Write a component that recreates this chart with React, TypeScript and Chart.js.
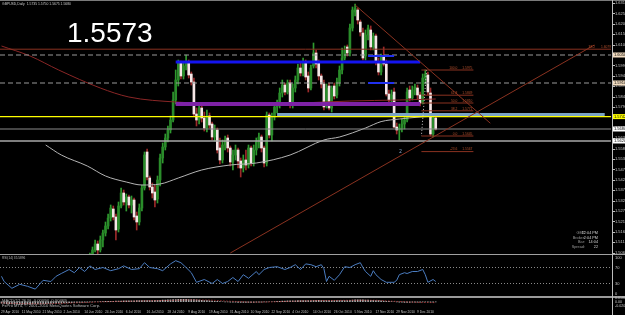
import React, { useEffect, useRef } from 'react';
import { Chart, registerables } from 'chart.js';

Chart.register(...registerables);

const FONT = '"Liberation Sans", Arial, sans-serif';

// ---------------- text content ----------------
const symbolTitle = 'GBPUSD,Daily  1.5735 1.5750 1.5675 1.5680';
const bigPrice = '1.5573';
const rsiTitle = 'RSI(14) 35.5896';
const macdTitle = 'MACD(12,26,9) -0.00094 -0.00469';
const copyright = 'FxPro MT4, \u00A9 2001-2010 MetaQuotes Software Corp.';
const infoLabels = ['GMT', 'Broker:', 'Bar:', 'Spread:'];
const infoValues = ['12:04 PM', '2:04 PM', '14:04', '22'];

// ---------------- x axis (bar index) ----------------
const dateLabels = ['29 Apr 2010', '11 May 2010', '21 May 2010', '2 Jun 2010', '14 Jun 2010', '24 Jun 2010', '6 Jul 2010', '16 Jul 2010', '28 Jul 2010', '9 Aug 2010', '19 Aug 2010', '31 Aug 2010', '10 Sep 2010', '22 Sep 2010', '4 Oct 2010', '14 Oct 2010', '26 Oct 2010', '5 Nov 2010', '17 Nov 2010', '29 Nov 2010', '9 Dec 2010'];
const dateLabelBars = [0, 8, 16, 24, 32, 40, 48, 56, 64, 72, 80, 88, 96, 104, 112, 120, 128, 136, 144, 152, 160];
const X_MIN = -0.577;
const X_MAX = 234.42;

// ---------------- price data (daily candles, first visible bar = 34) ----------------
const firstBar = 34;
const opens = [
  1.5015, 1.5045, 1.5075, 1.5105, 1.5075, 1.5125, 1.5160, 1.5195, 1.5235, 1.5280,
  1.5240, 1.5180, 1.5295, 1.5360, 1.5315, 1.5340, 1.5300, 1.5325, 1.5245, 1.5215,
  1.5285, 1.5385, 1.5565, 1.5435, 1.5390, 1.5365, 1.5330, 1.5425, 1.5535, 1.5590,
  1.5635, 1.5675, 1.5725, 1.5825, 1.5925, 1.6010, 1.5945, 1.5995, 1.6015, 1.5955,
  1.5915, 1.5755, 1.5725, 1.5785, 1.5735, 1.5685, 1.5745, 1.5705, 1.5640, 1.5675,
  1.5585, 1.5525, 1.5600, 1.5635, 1.5585, 1.5515, 1.5550, 1.5575, 1.5520, 1.5485,
  1.5525, 1.5500, 1.5585, 1.5510, 1.5575, 1.5615, 1.5640, 1.5585, 1.5510, 1.5750,
  1.5650, 1.5740, 1.5790, 1.5805, 1.5860, 1.5900, 1.5865, 1.5910, 1.5800, 1.5885,
  1.5925, 1.5985, 1.5960, 1.6010, 1.5945, 1.5885, 1.5995, 1.6060, 1.6010, 1.5945,
  1.5905, 1.5805, 1.5895, 1.5785, 1.5895, 1.5850, 1.5915, 1.5975, 1.6035, 1.6090,
  1.6060, 1.6185, 1.6265, 1.6275, 1.6215, 1.6160, 1.6045, 1.6150, 1.6175, 1.6090,
  1.6145, 1.6015, 1.5965, 1.6040, 1.6005, 1.5855, 1.5825, 1.5865, 1.5690, 1.5675,
  1.5685, 1.5705, 1.5725, 1.5875, 1.5835, 1.5875, 1.5885, 1.5850, 1.5815, 1.5935,
  1.5950, 1.5860, 1.5655, 1.5735,
];
const highs = [
  1.5060, 1.5090, 1.5125, 1.5120, 1.5145, 1.5175, 1.5215, 1.5255, 1.5300, 1.5295,
  1.5255, 1.5315, 1.5385, 1.5375, 1.5355, 1.5350, 1.5345, 1.5335, 1.5265, 1.5305,
  1.5400, 1.5565, 1.5580, 1.5445, 1.5410, 1.5400, 1.5445, 1.5555, 1.5610, 1.5655,
  1.5695, 1.5745, 1.5865, 1.5975, 1.6025, 1.6020, 1.6015, 1.6050, 1.6025, 1.5965,
  1.5935, 1.5785, 1.5805, 1.5795, 1.5765, 1.5775, 1.5760, 1.5715, 1.5700, 1.5685,
  1.5635, 1.5625, 1.5645, 1.5650, 1.5595, 1.5575, 1.5600, 1.5585, 1.5535, 1.5550,
  1.5575, 1.5600, 1.5595, 1.5600, 1.5635, 1.5660, 1.5650, 1.5595, 1.5765, 1.5760,
  1.5760, 1.5810, 1.5825, 1.5885, 1.5925, 1.5910, 1.5925, 1.5925, 1.5905, 1.5945,
  1.6005, 1.6015, 1.6035, 1.6025, 1.5965, 1.6000, 1.6110, 1.6075, 1.6025, 1.5955,
  1.5925, 1.5905, 1.5910, 1.5895, 1.5910, 1.5935, 1.5995, 1.6085, 1.6095, 1.6100,
  1.6205, 1.6290, 1.6305, 1.6285, 1.6225, 1.6185, 1.6175, 1.6200, 1.6195, 1.6160,
  1.6155, 1.6035, 1.6055, 1.6090, 1.6025, 1.5875, 1.5875, 1.5885, 1.5710, 1.5705,
  1.5730, 1.5745, 1.5885, 1.5895, 1.5895, 1.5905, 1.5900, 1.5865, 1.5955, 1.5975,
  1.5965, 1.5885, 1.5755, 1.5750,
];
const lows = [
  1.5005, 1.5035, 1.5065, 1.5050, 1.5065, 1.5090, 1.5145, 1.5180, 1.5220, 1.5225,
  1.5125, 1.5165, 1.5285, 1.5300, 1.5270, 1.5285, 1.5260, 1.5225, 1.5175, 1.5200,
  1.5270, 1.5375, 1.5425, 1.5375, 1.5335, 1.5290, 1.5310, 1.5395, 1.5510, 1.5575,
  1.5615, 1.5660, 1.5715, 1.5805, 1.5895, 1.5930, 1.5930, 1.5975, 1.5935, 1.5900,
  1.5745, 1.5695, 1.5705, 1.5715, 1.5670, 1.5665, 1.5685, 1.5625, 1.5620, 1.5560,
  1.5505, 1.5510, 1.5575, 1.5565, 1.5495, 1.5475, 1.5525, 1.5485, 1.5440, 1.5465,
  1.5475, 1.5485, 1.5495, 1.5495, 1.5550, 1.5585, 1.5565, 1.5490, 1.5495, 1.5635,
  1.5620, 1.5725, 1.5760, 1.5785, 1.5840, 1.5850, 1.5855, 1.5785, 1.5785, 1.5865,
  1.5905, 1.5945, 1.5945, 1.5925, 1.5865, 1.5875, 1.5985, 1.5985, 1.5925, 1.5885,
  1.5775, 1.5785, 1.5775, 1.5765, 1.5830, 1.5835, 1.5895, 1.5955, 1.6025, 1.6045,
  1.6045, 1.6170, 1.6245, 1.6205, 1.6145, 1.6025, 1.6025, 1.6125, 1.6075, 1.6075,
  1.6000, 1.5950, 1.5950, 1.5995, 1.5845, 1.5810, 1.5805, 1.5685, 1.5655, 1.5625,
  1.5665, 1.5680, 1.5715, 1.5820, 1.5825, 1.5850, 1.5830, 1.5795, 1.5805, 1.5905,
  1.5850, 1.5645, 1.5640, 1.5675,
];
const closes = [
  1.5045, 1.5075, 1.5105, 1.5075, 1.5125, 1.5160, 1.5195, 1.5235, 1.5285, 1.5240,
  1.5175, 1.5295, 1.5360, 1.5315, 1.5340, 1.5300, 1.5325, 1.5240, 1.5215, 1.5285,
  1.5385, 1.5550, 1.5440, 1.5390, 1.5360, 1.5325, 1.5425, 1.5535, 1.5590, 1.5635,
  1.5675, 1.5725, 1.5825, 1.5925, 1.6010, 1.5945, 1.5995, 1.6015, 1.5950, 1.5915,
  1.5755, 1.5725, 1.5785, 1.5735, 1.5685, 1.5745, 1.5700, 1.5640, 1.5675, 1.5575,
  1.5525, 1.5600, 1.5625, 1.5585, 1.5515, 1.5550, 1.5575, 1.5520, 1.5485, 1.5525,
  1.5500, 1.5585, 1.5510, 1.5575, 1.5615, 1.5640, 1.5585, 1.5510, 1.5750, 1.5650,
  1.5740, 1.5790, 1.5805, 1.5860, 1.5900, 1.5865, 1.5910, 1.5800, 1.5885, 1.5925,
  1.5985, 1.5960, 1.6015, 1.5940, 1.5885, 1.5985, 1.6060, 1.6005, 1.5945, 1.5905,
  1.5790, 1.5885, 1.5785, 1.5885, 1.5845, 1.5915, 1.5975, 1.6035, 1.6075, 1.6060,
  1.6185, 1.6275, 1.6285, 1.6225, 1.6165, 1.6035, 1.6150, 1.6185, 1.6090, 1.6145,
  1.6015, 1.5965, 1.6040, 1.6005, 1.5855, 1.5825, 1.5850, 1.5690, 1.5675, 1.5685,
  1.5705, 1.5725, 1.5865, 1.5835, 1.5875, 1.5890, 1.5850, 1.5810, 1.5935, 1.5955,
  1.5865, 1.5655, 1.5735, 1.5680,
];
const P_MIN = 1.5055;
const P_MAX = 1.6320;
const priceTicks = [1.6310, 1.6258, 1.6206, 1.6154, 1.6102, 1.6050, 1.5998, 1.5946, 1.5894, 1.5842, 1.5790, 1.5738, 1.5686, 1.5634, 1.5582, 1.5530, 1.5478, 1.5426, 1.5374, 1.5322, 1.5270, 1.5218, 1.5166, 1.5114, 1.5062];

// moving averages [bar, price]
const maSlow = [[0, 1.6095], [11, 1.6045], [22, 1.5975], [38, 1.5885], [49, 1.5840], [67, 1.5815], [96, 1.5805], [115, 1.5810], [134, 1.5820], [153, 1.5825], [167, 1.5830]];
const maFast = [[17, 1.5600], [23, 1.5550], [33, 1.5495], [40, 1.5445], [48, 1.5415], [54, 1.5400], [61, 1.5405], [68, 1.5435], [77, 1.5475], [88, 1.5500], [98, 1.5510], [111, 1.5550], [124, 1.5625], [130, 1.5640], [140, 1.5685], [146, 1.5717], [153, 1.5730], [161, 1.5740], [167, 1.5745]];

// chart objects
const brownLevel = 1.6079;
const dashedLevels = [1.6050, 1.5910];
const blueLevel = 1.6015;
const blueBars = [67, 161];
const shortBlueLevels = [1.6045, 1.5910];
const shortBlueBars = [141, 151];
const purpleLevel = 1.5805;
const purpleBars = [67, 161];
const steelLevel = 1.5752;
const steelBars = [106, 232];
const yellowLevel = 1.5742;
const grayLevel = 1.5620;
const downTrend = [[136, 1.6300], [188, 1.5709]];
const upTrend = [[88, 1.5060], [228, 1.6100]];
const fibBars = [161.5, 181.5];
const fibLevels = [1.5975, 1.5849, 1.5810, 1.5771, 1.5645, 1.5567];
const fibNames = ['100.0', '61.8', '50.0', '38.2', '0.0', '-23.6'];
const fibConnector = [[163.5, 1.5975], [161.5, 1.5645]];
const bigFibName = '38.2';
const waveMark = { bar: 153.5, price: 1.5568, text: '2' };

// RSI [bar, value]
const rsiPoints = [[0, 48], [1, 35], [4, 18], [7, 28], [10, 23], [13, 16], [16, 38], [19, 35], [21, 48], [23, 55], [26, 65], [28, 57], [30, 70], [32, 60], [34, 74], [36, 65], [39, 70], [42, 62], [45, 67], [47, 74], [50, 65], [53, 67], [55, 82], [57, 70], [60, 67], [62, 62], [65, 79], [67, 87], [69, 82], [71, 70], [73, 57], [75, 33], [78, 40], [81, 30], [83, 40], [85, 30], [87, 35], [89, 45], [91, 35], [93, 52], [95, 43], [98, 60], [99, 52], [101, 65], [103, 70], [106, 72], [109, 65], [111, 70], [113, 77], [115, 65], [117, 79], [119, 77], [121, 72], [123, 77], [124, 67], [125, 35], [126, 48], [128, 38], [130, 52], [132, 72], [134, 70], [136, 77], [138, 82], [139, 70], [140, 60], [142, 48], [143, 62], [144, 52], [146, 40], [148, 33], [151, 33], [152, 38], [153, 52], [155, 57], [156, 55], [158, 60], [160, 60], [162, 65], [163, 52], [164, 33], [166, 40], [167, 35]];
const rsiLevels = [70, 30];
const rsiAxisLabels = [100, 70, 30, 0];

// MACD
const macdHist = [
  -0.008, -0.009, -0.010, -0.011, -0.012, -0.013, -0.013, -0.014, -0.014, -0.014, -0.013, -0.013, -0.012, -0.012, -0.011, -0.011,
  -0.010, -0.010, -0.009, -0.009, -0.008, -0.008, -0.007, -0.007, -0.006, -0.006, -0.005, -0.005, -0.004, -0.004, -0.003, -0.003,
  -0.002, -0.002, -0.001, -0.001, 0, 0, 0.001, 0.001, 0.002, 0.002, 0.003, 0.003, 0.004, 0.004, 0.004, 0.005,
  0.005, 0.005, 0.005, 0.005, 0.006, 0.006, 0.006, 0.007, 0.007, 0.007, 0.007, 0.008, 0.008, 0.008, 0.009, 0.009,
  0.010, 0.010, 0.011, 0.012, 0.013, 0.013, 0.013, 0.013, 0.012, 0.012, 0.011, 0.010, 0.009, 0.008, 0.007, 0.006,
  0.005, 0.004, 0.003, 0.002, 0.001, 0, -0.001, -0.001, -0.002, -0.002, -0.002, -0.003, -0.003, -0.003, -0.003, -0.003,
  -0.003, -0.003, -0.002, -0.002, -0.002, -0.001, -0.001, 0, 0, 0.001, 0.002, 0.003, 0.004, 0.004, 0.005, 0.005,
  0.005, 0.005, 0.006, 0.006, 0.007, 0.007, 0.007, 0.007, 0.008, 0.008, 0.008, 0.007, 0.007, 0.006, 0.006, 0.006,
  0.006, 0.006, 0.006, 0.007, 0.007, 0.007, 0.008, 0.009, 0.010, 0.010, 0.010, 0.010, 0.009, 0.009, 0.008, 0.008,
  0.007, 0.006, 0.005, 0.004, 0.003, 0.002, 0.001, 0, -0.001, -0.002, -0.002, -0.003, -0.003, -0.003, -0.002, -0.002,
  -0.002, -0.002, -0.001, -0.001, -0.001, -0.002, -0.002, -0.001,
];
const macdSignal = [[0, -0.006], [8, -0.010], [16, -0.011], [24, -0.008], [32, -0.004], [40, 0], [48, 0.003], [56, 0.005], [64, 0.007], [72, 0.010], [80, 0.009], [88, 0.003], [96, -0.002], [104, -0.001], [112, 0.003], [120, 0.006], [128, 0.007], [136, 0.008], [144, 0.008], [152, 0.002], [160, -0.003], [167, -0.0047]];
const macdAxis = [[0.018, '0.01807'], [0, '0.00'], [-0.02, '-0.02018']];

// ---------------- helpers ----------------
function font(size: number) {
  return `${size}px ${FONT}`;
}
function text(ctx: any, s: string, x: number, y: number, size: number, color: string, align: any = 'left') {
  ctx.font = font(size);
  ctx.fillStyle = color;
  ctx.textAlign = align;
  ctx.textBaseline = 'middle';
  ctx.fillText(s, x, y);
}
function seg(points: number[][], color: string, width: number, dash: number[] = [], order = 2, smooth = false): any {
  return {
    type: 'line',
    data: points.map(([x, y]) => ({ x, y })),
    borderColor: color,
    borderWidth: width,
    borderDash: dash,
    pointRadius: 0,
    fill: false,
    tension: 0,
    cubicInterpolationMode: smooth ? 'monotone' : 'default',
    order,
  };
}
function baseOptions(yMin: number, yMax: number, padding: any): any {
  return {
    responsive: false,
    maintainAspectRatio: false,
    animation: false,
    devicePixelRatio: 1,
    events: [],
    layout: { padding },
    plugins: { legend: { display: false }, tooltip: { enabled: false } },
    scales: {
      x: { type: 'linear', min: X_MIN, max: X_MAX, display: false, offset: false },
      y: { type: 'linear', min: yMin, max: yMax, display: false, beginAtZero: false },
    },
  };
}
function axisLine(ctx: any, h: number) {
  ctx.fillStyle = '#bdbdbd';
  ctx.fillRect(612, 0, 1, h);
}

// ---------------- main chart ----------------
function mainConfig(): any {
  const wickData: any[] = [];
  const bodyData: any[] = [];
  const wickColors: string[] = [];
  const bodyColors: string[] = [];
  opens.forEach((o, k) => {
    const i = firstBar + k;
    const c = closes[k];
    const up = c >= o;
    wickData.push({ x: i, y: [lows[k], highs[k]] });
    bodyData.push({ x: i, y: [o, c] });
    wickColors.push(up ? '#2f9a2f' : '#9c2a2a');
    bodyColors.push(up ? '#2a8c2a' : '#f5e6e6');
  });

  const far = [X_MIN, X_MAX];
  const datasets: any[] = [
    { type: 'bar', data: wickData, backgroundColor: wickColors, barThickness: 1, grouped: false, order: 20 },
    { type: 'bar', data: bodyData, backgroundColor: bodyColors, barThickness: 2, grouped: false, order: 19 },
    seg(maSlow, '#8a2626', 1, [], 8, true),
    seg(maFast, '#b4b4b4', 1, [], 8, true),
    seg(far.map((x) => [x, brownLevel]), '#8a3220', 1, [], 6),
    ...dashedLevels.map((p) => seg(far.map((x) => [x, p]), '#9a9a9a', 1, [5, 3], 6)),
    seg(purpleBars.map((x) => [x, purpleLevel]), '#7e22a6', 4, [], 5),
    seg(blueBars.map((x) => [x, blueLevel]), '#1414f0', 3, [], 4),
    ...shortBlueLevels.map((p) => seg(shortBlueBars.map((x) => [x, p]), '#2030f0', 2, [], 4)),
    seg(steelBars.map((x) => [x, steelLevel]), '#7aa3c4', 3, [], 4),
    seg(far.map((x) => [x, yellowLevel]), '#ffff00', 1.2, [], 3),
    seg(far.map((x) => [x, closes[closes.length - 1]]), '#8c8c8c', 1, [], 3),
    seg(far.map((x) => [x, grayLevel]), '#a8a8a8', 1.5, [], 3),
    seg(downTrend, '#8a3220', 1, [], 2),
    seg(upTrend, '#8a3220', 1, [], 2),
    ...fibLevels.map((p) => seg(fibBars.map((x) => [x, p]), '#8a3220', 1, [], 2)),
    seg(fibConnector, '#c8c8c8', 1, [1, 2], 2),
  ];

  const decor = {
    id: 'mainDecor',
    afterDraw(chart: any) {
      const { ctx } = chart;
      const xs = chart.scales.x;
      const ys = chart.scales.y;
      ctx.save();
      // frame lines
      ctx.fillStyle = '#7a7a7a';
      ctx.fillRect(0, 0, 625, 1);
      ctx.fillStyle = '#a0a0a0';
      ctx.fillRect(0, 254, 625, 1);
      axisLine(ctx, chart.height);
      // price scale
      priceTicks.forEach((p) => {
        const py = ys.getPixelForValue(p);
        ctx.fillStyle = '#bdbdbd';
        ctx.fillRect(613, Math.round(py), 2, 1);
        text(ctx, p.toFixed(4), 615, py, 4, '#c8c8c8');
      });
      const marks: [number, string][] = [
        [dashedLevels[0], '#f2dcc0'],
        [dashedLevels[1], '#f2dcc0'],
        [yellowLevel, '#ffff00'],
        [closes[closes.length - 1], '#ffffff'],
        [grayLevel, '#ffffff'],
      ];
      marks.forEach(([p, bg]) => {
        const py = ys.getPixelForValue(p);
        ctx.fillStyle = bg;
        ctx.fillRect(613, py - 2.5, 12, 5);
        text(ctx, p.toFixed(4), 614, py, 4, '#000000');
      });
      // titles
      text(ctx, symbolTitle, 2, 4.5, 3.4, '#c8c8c8');
      ctx.font = font(28);
      ctx.fillStyle = '#ffffff';
      ctx.textAlign = 'left';
      ctx.textBaseline = 'alphabetic';
      ctx.fillText(bigPrice, 67, 42);
      // fib labels
      const fx = xs.getPixelForValue(fibBars[1]);
      fibLevels.forEach((p, k) => {
        const py = ys.getPixelForValue(p) - 2.2;
        text(ctx, fibNames[k], fx - 16, py, 3.3, '#b4502c', 'right');
        text(ctx, p.toFixed(4), fx - 1, py, 3.3, '#b4502c', 'right');
      });
      const by = ys.getPixelForValue(brownLevel) - 2.2;
      text(ctx, bigFibName, 595, by, 3.3, '#b4502c', 'right');
      text(ctx, brownLevel.toFixed(4), 611, by, 3.3, '#b4502c', 'right');
      // wave mark
      text(ctx, waveMark.text, xs.getPixelForValue(waveMark.bar), ys.getPixelForValue(waveMark.price), 4.5, '#8fb0d8', 'center');
      // info panel
      infoLabels.forEach((l, k) => {
        const yy = 233 + k * 4.7;
        text(ctx, l, 585, yy, 3.8, '#9a9a9a', 'right');
        text(ctx, infoValues[k], 598, yy, 3.8, '#d0d0d0', 'right');
      });
      ctx.restore();
    },
  };

  const opts = baseOptions(P_MIN, P_MAX, { top: 1, bottom: 1, left: 0, right: 14 });
  return { type: 'bar', data: { datasets }, options: opts, plugins: [decor] };
}

// ---------------- RSI chart ----------------
function rsiConfig(): any {
  const far = [X_MIN, X_MAX];
  const datasets: any[] = [
    ...rsiLevels.map((v) => seg(far.map((x) => [x, v]), '#8a8a8a', 1, [1, 2], 3)),
    seg(rsiPoints, '#4a7cc0', 1, [], 1),
  ];
  const decor = {
    id: 'rsiDecor',
    afterDraw(chart: any) {
      const { ctx } = chart;
      const ys = chart.scales.y;
      ctx.save();
      axisLine(ctx, chart.height);
      text(ctx, rsiTitle, 2, 3.5, 3.2, '#b8b8b8');
      rsiAxisLabels.forEach((v) => {
        const py = Math.min(chart.height - 2.5, Math.max(2.5, ys.getPixelForValue(v)));
        text(ctx, String(v), 615, py, 4, '#c8c8c8');
      });
      ctx.restore();
    },
  };
  const opts = baseOptions(0, 100, { top: 0.5, bottom: 0.5, left: 0, right: 14 });
  return { type: 'line', data: { datasets }, options: opts, plugins: [decor] };
}

// ---------------- MACD + time axis ----------------
function macdConfig(): any {
  const datasets: any[] = [
    {
      type: 'bar',
      data: macdHist.map((v, i) => ({ x: i, y: v })),
      backgroundColor: '#a8a8a8',
      barThickness: 1,
      grouped: false,
      order: 5,
    },
    seg(macdSignal, '#c83a3a', 1, [1, 2], 1),
  ];
  const decor = {
    id: 'macdDecor',
    afterDraw(chart: any) {
      const { ctx } = chart;
      const xs = chart.scales.x;
      const ys = chart.scales.y;
      ctx.save();
      ctx.fillStyle = '#9a9a9a';
      ctx.fillRect(0, 0, 625, 2);
      axisLine(ctx, chart.height);
      text(ctx, macdTitle, 2, 4.5, 4.2, '#b8b8b8');
      text(ctx, copyright, 2, 10, 4.1, '#b8b8b8');
      macdAxis.forEach(([v, s]: any) => {
        text(ctx, s, 615, ys.getPixelForValue(v), 3.6, '#c8c8c8');
      });
      dateLabels.forEach((d, k) => {
        text(ctx, d, xs.getPixelForValue(dateLabelBars[k]) - 0.5, 15.8, 3.3, '#c0c0c0');
      });
      ctx.restore();
    },
  };
  const opts = baseOptions(-0.025, 0.02, { top: 2, bottom: 8.5, left: 0, right: 14 });
  return { type: 'bar', data: { datasets }, options: opts, plugins: [decor] };
}

export default function App() {
  const mainRef = useRef<HTMLCanvasElement>(null);
  const rsiRef = useRef<HTMLCanvasElement>(null);
  const macdRef = useRef<HTMLCanvasElement>(null);

  useEffect(() => {
    document.body.style.margin = '0';
    document.body.style.background = '#000';
    const charts = [
      new Chart(mainRef.current as HTMLCanvasElement, mainConfig()),
      new Chart(rsiRef.current as HTMLCanvasElement, rsiConfig()),
      new Chart(macdRef.current as HTMLCanvasElement, macdConfig()),
    ];
    return () => charts.forEach((c) => c.destroy());
  }, []);

  return (
    <div style={{ position: 'fixed', left: 0, top: 0, width: 625, height: 315, background: '#000', overflow: 'hidden' }}>
      <canvas ref={mainRef} width={625} height={255} style={{ position: 'absolute', left: 0, top: 0, width: 625, height: 255 }} />
      <canvas ref={rsiRef} width={625} height={41} style={{ position: 'absolute', left: 0, top: 255, width: 625, height: 41 }} />
      <canvas ref={macdRef} width={625} height={19} style={{ position: 'absolute', left: 0, top: 296, width: 625, height: 19 }} />
    </div>
  );
}
